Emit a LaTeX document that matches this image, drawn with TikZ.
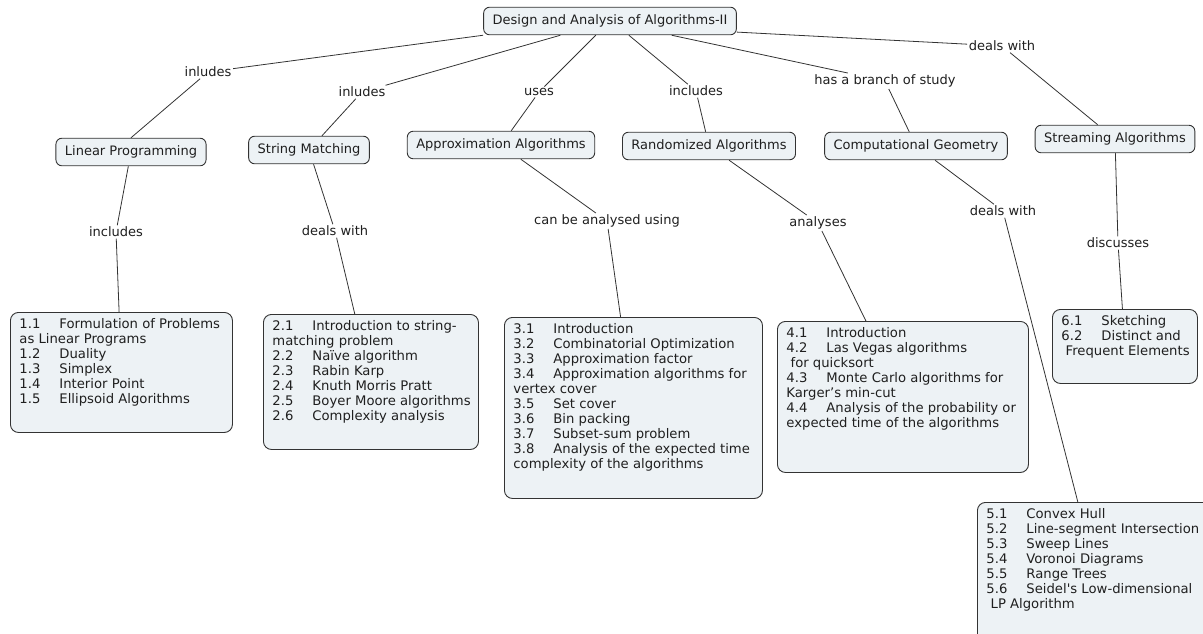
\documentclass[tikz,border=0pt]{standalone}
\usepackage{fontspec}
\setmainfont{DejaVu Sans}
\usepackage{xcolor}
\usetikzlibrary{positioning}
\definecolor{boxfill}{HTML}{EDF2F5}
\definecolor{boxline}{HTML}{333333}
\tikzset{
  concept/.style={draw=boxline, fill=boxfill, rounded corners=6pt, line width=0.9pt,
    inner xsep=9pt, inner ysep=7.5pt, text=black!88, font=\fontsize{13}{15}\selectfont},
  topics/.style={draw=boxline, fill=boxfill, rounded corners=8pt, line width=0.9pt,
    anchor=north west, inner xsep=9pt, inner ysep=6pt, text=black!88,
    font=\fontsize{13.2}{15}\selectfont},
  phrase/.style={inner sep=1.5pt, fill=white, text=black!88, font=\fontsize{13}{15}\selectfont},
  link/.style={draw=black!80, line width=0.8pt}
}
\newcommand{\itm}[2]{\makebox[40pt][l]{#1}\mbox{#2}}
\newcommand{\topicbox}[3]{\parbox[t][#2][t]{#1}{\raggedright #3}}

\begin{document}
\begin{tikzpicture}[x=1pt, y=1pt]
  \useasboundingbox (0,0) rectangle (1203,-633);
  % main concept
  \node[concept] (top) at (610,-21) {Design and Analysis of Algorithms-II};
  % branches
  \node[concept] (lp) at (131,-152) {Linear Programming};
  \node[concept] (sm) at (309,-150) {String Matching};
  \node[concept] (aa) at (501,-145) {Approximation Algorithms};
  \node[concept] (ra) at (709,-146) {Randomized Algorithms};
  \node[concept] (cg) at (916,-146) {Computational Geometry};
  \node[concept] (sa) at (1115,-139) {Streaming Algorithms};
  % linking phrases, upper row
  \node[phrase] (l1) at (208,-72) {inludes};
  \node[phrase] (l2) at (362,-92) {inludes};
  \node[phrase] (l3) at (539,-92) {uses};
  \node[phrase] (l4) at (696,-91) {includes};
  \node[phrase] (l5) at (885,-81) {has a branch of study};
  \node[phrase] (l6) at (1002,-46) {deals with};
  % linking phrases, lower row
  \node[phrase] (m1) at (116,-232) {includes};
  \node[phrase] (m2) at (335,-231) {deals with};
  \node[phrase] (m3) at (607,-221) {can be analysed using};
  \node[phrase] (m4) at (818,-223) {analyses};
  \node[phrase] (m5) at (1003,-211) {deals with};
  \node[phrase] (m6) at (1118,-243) {discusses};
  % topic lists
  \node[topics] (lpbox) at (10,-312) {\topicbox{204pt}{108pt}{%
    \itm{1.1}{Formulation of Problems}\\
    as Linear Programs\\
    \itm{1.2}{Duality}\\
    \itm{1.3}{Simplex}\\
    \itm{1.4}{Interior Point}\\
    \itm{1.5}{Ellipsoid Algorithms}}};
  \node[topics] (smbox) at (263,-314) {\topicbox{197pt}{123pt}{%
    \itm{2.1}{Introduction to string-}\\
    matching problem\\
    \itm{2.2}{Naïve algorithm}\\
    \itm{2.3}{Rabin Karp}\\
    \itm{2.4}{Knuth Morris Pratt}\\
    \itm{2.5}{Boyer Moore algorithms}\\
    \itm{2.6}{Complexity analysis}}};
  \node[topics] (aabox) at (504,-317) {\topicbox{240pt}{169pt}{%
    \itm{3.1}{Introduction}\\
    \itm{3.2}{Combinatorial Optimization}\\
    \itm{3.3}{Approximation factor}\\
    \itm{3.4}{Approximation algorithms for}\\
    vertex cover\\
    \itm{3.5}{Set cover}\\
    \itm{3.6}{Bin packing}\\
    \itm{3.7}{Subset-sum problem}\\
    \itm{3.8}{Analysis of the expected time}\\
    complexity of the algorithms}};
  \node[topics] (rabox) at (777,-321) {\topicbox{233pt}{139pt}{%
    \itm{4.1}{Introduction}\\
    \itm{4.2}{Las Vegas algorithms}\\
    \mbox{\ for quicksort}\\
    \itm{4.3}{Monte Carlo algorithms for}\\
    Karger’s min-cut\\
    \itm{4.4}{Analysis of the probability or}\\
    expected time of the algorithms}};
  \node[topics] (cgbox) at (977,-502) {\topicbox{222pt}{140pt}{%
    \itm{5.1}{Convex Hull}\\
    \itm{5.2}{Line-segment Intersection}\\
    \itm{5.3}{Sweep Lines}\\
    \itm{5.4}{Voronoi Diagrams}\\
    \itm{5.5}{Range Trees}\\
    \itm{5.6}{Seidel\textquotesingle s Low-dimensional}\\
    \mbox{\ LP Algorithm}}};
  \node[topics] (sabox) at (1052,-309) {\topicbox{127pt}{62pt}{%
    \itm{6.1}{Sketching}\\
    \itm{6.2}{Distinct and}\\
    \mbox{\ Frequent Elements}}};
  % connectors
  \draw[link] (top.south west) -- (l1) -- (lp.north);
  \draw[link] (top.196) -- (l2) -- (sm);
  \draw[link] (top.225) -- (l3) -- (aa);
  \draw[link] (top.323) -- (l4) -- (ra);
  \draw[link] (top.347) -- (l5) -- (cg);
  \draw[link] (top.355) -- (l6) -- (sa);
  \draw[link] (lp) -- (m1) -- (lpbox);
  \draw[link] (sm) -- (m2) -- (smbox);
  \draw[link] (aa) -- (m3) -- (aabox);
  \draw[link] (ra) -- (m4) -- (rabox);
  \draw[link] (cg) -- (m5) -- (cgbox);
  \draw[link] (sa) -- (m6) -- (sabox);
\end{tikzpicture}
\end{document}
